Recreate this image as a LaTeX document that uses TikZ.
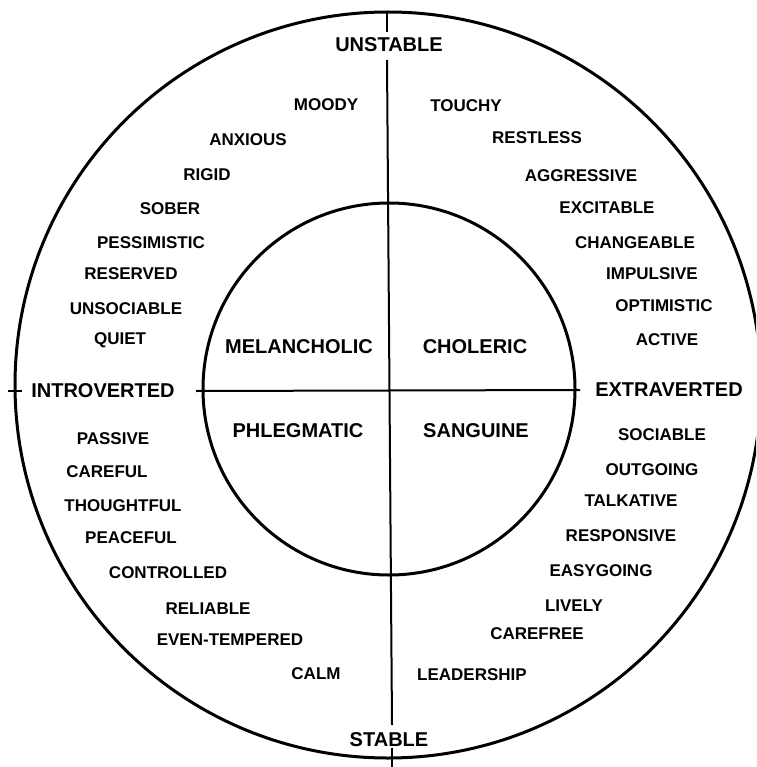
\documentclass[tikz,border=0pt]{standalone}
\usepackage{fontspec}
\setmainfont{Liberation Sans}
\begin{document}
\begin{tikzpicture}[x=1pt,y=-1pt,
  word/.style={font=\fontsize{17}{20}\selectfont\bfseries, inner sep=0pt, anchor=center},
  big/.style={font=\fontsize{20}{24}\selectfont\bfseries, inner sep=0pt, anchor=center},
  ring/.style={line width=3pt},
  axis/.style={line width=2pt}]
\useasboundingbox (0,0) rectangle (756,767);
\clip (0,0) rectangle (756,767);
% circles
\coordinate (c) at (388,386);
\draw[ring] (388,385) circle[radius=373];
\draw[ring] (389,389) circle[radius=186];
% axes
\coordinate (vtop) at (387,60);
\coordinate (vbot) at (392,725);
\coordinate (hl) at (196,391);
\coordinate (hr) at (580,390);
\draw[axis] (vtop) -- (vbot);
\draw[axis] (hl) -- (hr);
\coordinate (t1) at (387,12); \coordinate (t2) at (387,32);
\coordinate (b1) at (392,748); \coordinate (b2) at (392,767);
\coordinate (l1) at (8,391); \coordinate (l2) at (22,391);
\draw[axis] (t1) -- (t2);
\draw[axis] (b1) -- (b2);
\draw[axis] (l1) -- (l2);
% axis labels
\node[big] (unstable) at (389,45) {UNSTABLE};
\node[big] (stable) at (389,740) {STABLE};
\node[big] (intro) at (103,391) {INTROVERTED};
\node[big] (extra) at (669,390) {EXTRAVERTED};
% temperaments
\node[big] (mel) at (299,347) {MELANCHOLIC};
\node[big] (chol) at (475,347) {CHOLERIC};
\node[big] (phl) at (298,431) {PHLEGMATIC};
\node[big] (san) at (476,431) {SANGUINE};
% upper left
\node[word] (w1) at (326,105) {MOODY};
\node[word] (w2) at (248,140) {ANXIOUS};
\node[word] (w3) at (207,175) {RIGID};
\node[word] (w4) at (170,209) {SOBER};
\node[word] (w5) at (151,243) {PESSIMISTIC};
\node[word] (w6) at (131,274) {RESERVED};
\node[word] (w7) at (126,309) {UNSOCIABLE};
\node[word] (w8) at (120,340) {QUIET};
% upper right
\node[word] (r1) at (466,106) {TOUCHY};
\node[word] (r2) at (537,138) {RESTLESS};
\node[word] (r3) at (581,176) {AGGRESSIVE};
\node[word] (r4) at (607,208) {EXCITABLE};
\node[word] (r5) at (635,243) {CHANGEABLE};
\node[word] (r6) at (652,274) {IMPULSIVE};
\node[word] (r7) at (664,306) {OPTIMISTIC};
\node[word] (r8) at (667,340) {ACTIVE};
% lower left
\node[word] (p1) at (113,439) {PASSIVE};
\node[word] (p2) at (107,472) {CAREFUL};
\node[word] (p3) at (123,506) {THOUGHTFUL};
\node[word] (p4) at (131,538) {PEACEFUL};
\node[word] (p5) at (168,573) {CONTROLLED};
\node[word] (p6) at (208,609) {RELIABLE};
\node[word] (p7) at (230,640) {EVEN-TEMPERED};
\node[word] (p8) at (316,674) {CALM};
% lower right
\node[word] (s1) at (662,435) {SOCIABLE};
\node[word] (s2) at (652,470) {OUTGOING};
\node[word] (s3) at (631,501) {TALKATIVE};
\node[word] (s4) at (621,536) {RESPONSIVE};
\node[word] (s5) at (601,571) {EASYGOING};
\node[word] (s6) at (574,606) {LIVELY};
\node[word] (s7) at (537,634) {CAREFREE};
\node[word] (s8) at (472,675) {LEADERSHIP};
\end{tikzpicture}
\end{document}
